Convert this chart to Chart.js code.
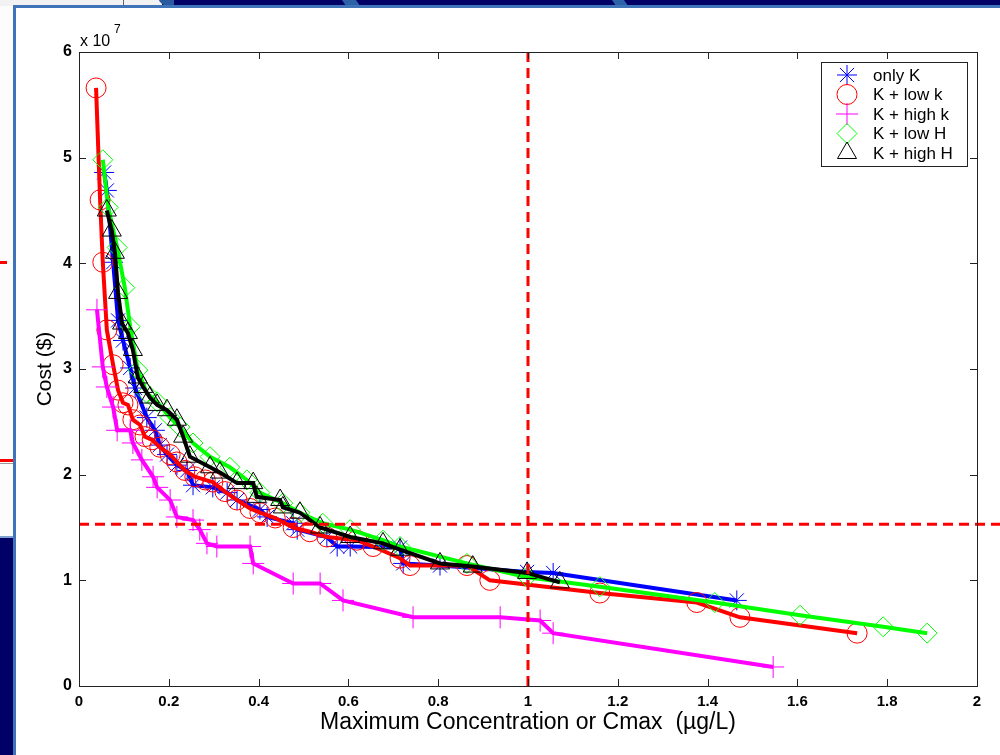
<!DOCTYPE html>
<html>
<head>
<meta charset="utf-8">
<title>Cost vs Cmax</title>
<script src="https://cdn.jsdelivr.net/npm/chart.js@4.4.1/dist/chart.umd.min.js"></script>
<style>
  html, body { margin: 0; padding: 0; }
  body {
    width: 1000px; height: 755px; position: relative; overflow: hidden;
    background: #000066; font-family: "Liberation Sans", Arial, sans-serif;
  }
  /* slide behind the figure window */
  .top-light { position: absolute; left: 0; top: 0; width: 162px; height: 6px; background: #f2f2f2; }
  .top-rule { position: absolute; left: 123px; top: 0; width: 1px; height: 6px; background: #666; }
  .top-curve { position: absolute; left: 158px; top: -6px; width: 16px; height: 12px; border-radius: 0 0 0 10px; background: #2a5aa0; }
  .wedge { position: absolute; top: 0; height: 6px; background: #2d62a8; transform: skewX(35deg); }
  .left-panel { position: absolute; left: 0; top: 6px; width: 14px; height: 530px; background: #fcfcfc; border-bottom: 2px solid #7f9fd0; }
  .left-dash { position: absolute; left: 0; top: 261px; width: 7px; height: 3px; background: #ff0000; }
  .left-red { position: absolute; left: 0; top: 459px; width: 14px; height: 3px; background: #ff0000; }
  .left-gray { position: absolute; left: 0; top: 463px; width: 14px; height: 1px; background: #999; }
  .figure {
    position: absolute; left: 13px; top: 5px; width: 987px; height: 750px; background: #fff;
    border-left: 3px solid #3f74b9; border-top: 3px solid #3f74b9; box-sizing: border-box;
  }
  #chartWrap { position: absolute; left: 0; top: 0; width: 1000px; height: 755px; }
</style>
</head>
<body>
<div class="top-light"></div>
<div class="top-rule"></div>
<div class="top-curve"></div>
<div class="wedge" style="left:344px;width:14px;"></div>
<div class="wedge" style="left:614px;width:12px;"></div>
<div class="left-panel"></div>
<div class="left-dash"></div>
<div class="left-red"></div>
<div class="left-gray"></div>
<div class="figure"></div>
<div id="chartWrap"><canvas id="costChart" width="1000" height="755"></canvas></div>

<script>
// Maximum concentration (ug/L) and remediation cost ($) along each trade-off curve
const cmaxOnlyK = [0.056, 0.062, 0.076, 0.087, 0.098, 0.114, 0.125, 0.151, 0.169, 0.180, 0.196, 0.218, 0.241, 0.254, 0.298, 0.330, 0.352, 0.403, 0.419, 0.477, 0.486, 0.552, 0.575, 0.604, 0.715, 0.722, 0.804, 0.998, 1.056, 1.465];
const costOnlyK = [4.86e7, 4.69e7, 4.01e7, 3.46e7, 3.27e7, 3.01e7, 2.82e7, 2.54e7, 2.42e7, 2.28e7, 2.19e7, 2.09e7, 2.04e7, 1.90e7, 1.88e7, 1.83e7, 1.76e7, 1.67e7, 1.60e7, 1.54e7, 1.48e7, 1.41e7, 1.32e7, 1.32e7, 1.31e7, 1.16e7, 1.14e7, 1.08e7, 1.07e7, 0.81e7];

const cmaxLowK = [0.038, 0.047, 0.053, 0.062, 0.076, 0.087, 0.098, 0.109, 0.120, 0.136, 0.147, 0.163, 0.180, 0.203, 0.218, 0.236, 0.258, 0.281, 0.298, 0.325, 0.352, 0.381, 0.403, 0.437, 0.477, 0.514, 0.552, 0.619, 0.655, 0.715, 0.737, 0.864, 0.915, 1.160, 1.376, 1.472, 1.733];
const costLowK = [5.66e7, 4.60e7, 4.01e7, 3.37e7, 3.04e7, 2.80e7, 2.68e7, 2.66e7, 2.52e7, 2.47e7, 2.36e7, 2.33e7, 2.26e7, 2.19e7, 2.12e7, 2.04e7, 1.98e7, 1.95e7, 1.93e7, 1.84e7, 1.76e7, 1.68e7, 1.64e7, 1.59e7, 1.50e7, 1.46e7, 1.41e7, 1.38e7, 1.32e7, 1.21e7, 1.14e7, 1.14e7, 1.00e7, 0.88e7, 0.79e7, 0.65e7, 0.50e7];

const cmaxHighK = [0.040, 0.053, 0.062, 0.076, 0.085, 0.114, 0.120, 0.140, 0.165, 0.174, 0.203, 0.218, 0.254, 0.269, 0.285, 0.307, 0.381, 0.388, 0.477, 0.537, 0.588, 0.744, 0.938, 1.027, 1.056, 1.546];
const costHighK = [3.56e7, 3.02e7, 2.83e7, 2.64e7, 2.42e7, 2.42e7, 2.30e7, 2.14e7, 1.98e7, 1.88e7, 1.76e7, 1.60e7, 1.57e7, 1.48e7, 1.35e7, 1.32e7, 1.32e7, 1.16e7, 0.97e7, 0.97e7, 0.81e7, 0.65e7, 0.65e7, 0.62e7, 0.50e7, 0.18e7];

const cmaxLowH = [0.053, 0.065, 0.085, 0.102, 0.114, 0.131, 0.151, 0.174, 0.203, 0.225, 0.254, 0.292, 0.336, 0.374, 0.403, 0.454, 0.492, 0.543, 0.604, 0.677, 0.715, 0.864, 0.998, 1.160, 1.416, 1.606, 1.791, 1.889];
const costLowH = [4.98e7, 4.53e7, 4.15e7, 3.77e7, 3.40e7, 2.99e7, 2.77e7, 2.69e7, 2.54e7, 2.45e7, 2.30e7, 2.17e7, 2.07e7, 1.95e7, 1.83e7, 1.73e7, 1.64e7, 1.54e7, 1.48e7, 1.38e7, 1.32e7, 1.16e7, 1.03e7, 0.94e7, 0.79e7, 0.67e7, 0.56e7, 0.50e7];

const cmaxHighH = [0.062, 0.073, 0.080, 0.087, 0.096, 0.109, 0.120, 0.131, 0.143, 0.158, 0.174, 0.196, 0.218, 0.232, 0.247, 0.292, 0.314, 0.352, 0.388, 0.396, 0.448, 0.454, 0.492, 0.537, 0.604, 0.677, 0.715, 0.804, 0.877, 0.998, 1.071];
const costHighH = [4.50e7, 4.31e7, 4.10e7, 3.72e7, 3.43e7, 3.34e7, 3.18e7, 2.92e7, 2.83e7, 2.73e7, 2.66e7, 2.61e7, 2.52e7, 2.36e7, 2.17e7, 2.07e7, 2.02e7, 1.92e7, 1.92e7, 1.79e7, 1.76e7, 1.69e7, 1.64e7, 1.50e7, 1.41e7, 1.35e7, 1.29e7, 1.16e7, 1.13e7, 1.07e7, 0.98e7];

const seriesLabels = ['only K', 'K + low k', 'K + high k', 'K + low H', 'K + high H'];

// reference limits shown as dashed lines
const cmaxLimit = 1.0;
const costLimit = 1.53e7;

// axis ranges and ticks
const xMin = 0, xMax = 2, xStep = 0.2;
const yMin = 0, yMax = 6e7, yStep = 1e7;
const yExponent = 7;

const FONT = '"Liberation Sans", Arial, Helvetica, sans-serif';

function toPoints(xs, ys) {
    return xs.map((x, i) => ({ x: x, y: ys[i] }));
}

function makeSeries(label, xs, ys, color, style, radius, order) {
    return {
        label: label,
        data: toPoints(xs, ys),
        borderColor: color,
        borderWidth: 4,
        backgroundColor: color,
        pointStyle: style,
        pointRadius: radius,
        pointHoverRadius: radius,
        pointBorderWidth: 1,
        pointBorderColor: color,
        pointBackgroundColor: 'rgba(0,0,0,0)',
        tension: 0,
        fill: false,
        order: order
    };
}

// MATLAB-looking frame: box, inward ticks on all sides, exponent, dashed limits, legend
const matlabFrame = {
    id: 'matlabFrame',
    afterDatasetsDraw(chart) {
        const ctx = chart.ctx;
        const area = chart.chartArea;
        const xs = chart.scales.x, ys = chart.scales.y;
        ctx.save();
        ctx.strokeStyle = '#ff0000';
        ctx.lineWidth = 3;
        ctx.setLineDash([10, 6]);
        const vx = xs.getPixelForValue(cmaxLimit);
        ctx.beginPath();
        ctx.moveTo(vx, area.top);
        ctx.lineTo(vx, area.bottom + 4);
        ctx.stroke();
        const hy = ys.getPixelForValue(costLimit);
        ctx.beginPath();
        ctx.moveTo(area.left, hy);
        ctx.lineTo(chart.width, hy);
        ctx.stroke();
        ctx.restore();
    },
    afterDraw(chart) {
        const ctx = chart.ctx;
        const a = chart.chartArea;
        const xs = chart.scales.x, ys = chart.scales.y;
        const tick = 7;
        ctx.save();
        ctx.strokeStyle = '#222';
        ctx.lineWidth = 1;
        ctx.strokeRect(Math.round(a.left) + 0.5, Math.round(a.top) + 0.5,
            Math.round(a.right - a.left), Math.round(a.bottom - a.top));
        ctx.beginPath();
        xs.ticks.forEach(t => {
            const px = Math.round(xs.getPixelForValue(t.value)) + 0.5;
            ctx.moveTo(px, a.bottom); ctx.lineTo(px, a.bottom - tick);
            ctx.moveTo(px, a.top); ctx.lineTo(px, a.top + tick);
        });
        ys.ticks.forEach(t => {
            const py = Math.round(ys.getPixelForValue(t.value)) + 0.5;
            ctx.moveTo(a.left, py); ctx.lineTo(a.left + tick, py);
            ctx.moveTo(a.right, py); ctx.lineTo(a.right - tick, py);
        });
        ctx.stroke();

        // x 10^7 above the y axis
        ctx.fillStyle = '#000';
        ctx.textBaseline = 'alphabetic';
        ctx.textAlign = 'left';
        ctx.font = '16px ' + FONT;
        ctx.fillText('x 10', a.left + 1, a.top - 6);
        ctx.font = '12px ' + FONT;
        ctx.fillText(String(yExponent), a.left + 35, a.top - 19);

        // legend box in the upper right corner
        const bw = 146, bh = 104;
        const bx = Math.round(a.right) - 10 - bw, by = Math.round(a.top) + 10;
        ctx.fillStyle = '#fff';
        ctx.fillRect(bx, by, bw, bh);
        ctx.strokeStyle = '#222';
        ctx.strokeRect(bx + 0.5, by + 0.5, bw, bh);
        chart.data.datasets.forEach((ds, i) => {
            const cy = by + 13 + i * 19.5;
            ctx.save();
            ctx.strokeStyle = ds.pointBorderColor;
            ctx.fillStyle = 'rgba(0,0,0,0)';
            ctx.lineWidth = 1;
            Chart.helpers.drawPoint(ctx, {
                pointStyle: ds.pointStyle, radius: ds.pointRadius, rotation: 0, borderWidth: 1
            }, bx + 26, cy);
            ctx.restore();
            ctx.fillStyle = '#000';
            ctx.font = '17px ' + FONT;
            ctx.textBaseline = 'middle';
            ctx.fillText(ds.label, bx + 52, cy + 1);
        });
        ctx.restore();
    }
};

const ctx = document.getElementById('costChart');
const costChart = new Chart(ctx, {
    type: 'line',
    data: {
        datasets: [
            makeSeries(seriesLabels[0], cmaxOnlyK, costOnlyK, '#0000ff', 'star', 10, 4),
            makeSeries(seriesLabels[1], cmaxLowK, costLowK, '#ff0000', 'circle', 10, 3),
            makeSeries(seriesLabels[2], cmaxHighK, costHighK, '#ff00ff', 'cross', 11, 2),
            makeSeries(seriesLabels[3], cmaxLowH, costLowH, '#00ff00', 'rectRot', 10, 1),
            makeSeries(seriesLabels[4], cmaxHighH, costHighH, '#000000', 'triangle', 11, 0)
        ]
    },
    options: {
        responsive: false,
        animation: false,
        events: [],
        layout: { padding: { left: 0, top: 52, right: 23, bottom: 0 } },
        plugins: {
            legend: { display: false },
            tooltip: { enabled: false }
        },
        scales: {
            x: {
                type: 'linear',
                min: xMin,
                max: xMax,
                grid: { display: false, drawTicks: false },
                border: { display: false },
                ticks: {
                    stepSize: xStep,
                    padding: 7,
                    color: '#000',
                    font: { family: FONT, size: 15, weight: 'bold' },
                    callback: v => Number(v.toFixed(1)).toString()
                },
                title: {
                    display: true,
                    text: 'Maximum Concentration or Cmax  (\u00b5g/L)',
                    color: '#000',
                    font: { family: FONT, size: 23 },
                    padding: { top: 0, bottom: 19 }
                },
                afterFit: scale => { scale.height = 69; }
            },
            y: {
                type: 'linear',
                min: yMin,
                max: yMax,
                grid: { display: false, drawTicks: false },
                border: { display: false },
                ticks: {
                    stepSize: yStep,
                    padding: 7,
                    color: '#000',
                    font: { family: FONT, size: 16, weight: 'bold' },
                    callback: v => Math.round(v / Math.pow(10, yExponent)).toString()
                },
                title: {
                    display: true,
                    text: 'Cost ($)',
                    color: '#000',
                    font: { family: FONT, size: 21 },
                    padding: { top: 33, bottom: 0 }
                },
                afterFit: scale => { scale.width = 79; }
            }
        }
    },
    plugins: [matlabFrame]
});
</script>
</body>
</html>
